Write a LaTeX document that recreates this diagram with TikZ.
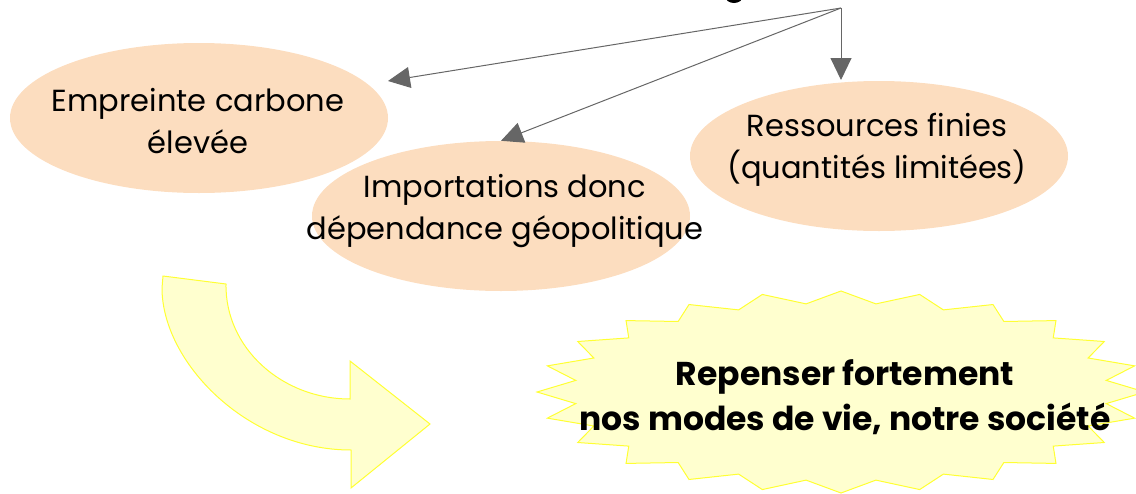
\documentclass[tikz,border=0pt]{standalone}
\usepackage{fontspec}
\setmainfont{Poppins}
\usetikzlibrary{arrows.meta,shapes.geometric}
\definecolor{peach}{HTML}{FCDDBF}
\definecolor{lightyel}{HTML}{FFFFCF}
\definecolor{yelline}{HTML}{FFFF33}
\definecolor{arrgray}{HTML}{666666}
\tikzset{
  blob/.style={ellipse, fill=peach, minimum width=378pt, minimum height=150pt, inner sep=0pt},
  txtlbl/.style={align=center, font=\fontsize{30.5}{42}\selectfont, inner sep=0pt},
  btxtlbl/.style={align=center, font=\fontsize{33}{45}\selectfont\bfseries, inner sep=0pt},
  conn/.style={draw=arrgray, line width=1pt, -{Triangle[length=22pt,width=21pt]}, arrgray},
}
\begin{document}
\begin{tikzpicture}[x=1pt,y=-1pt]
\useasboundingbox (0,0) rectangle (1136,493);
\begin{scope}
\clip (0,0) rectangle (1136,493);
% fragment of a title letter cut by the top edge
\fill[black] (734,-4) ellipse [x radius=9, y radius=7];
% ellipses
\node[blob] (e1) at (199,118) {};
\node[blob] (e2) at (501,216) {};
\node[blob] (e3) at (879,156) {};
\node[txtlbl] (t1) at (198,121) {Empreinte carbone\\élevée};
\node[txtlbl] (t2) at (505,211) {Importations donc\\dépendance géopolitique};
\node[txtlbl] (t3) at (877,150) {Ressources finies\\(quantités limitées)};
% connectors
\coordinate (src) at (841,8);
\coordinate (tip1) at (388,81);
\coordinate (tip3) at (841,80);
\draw[conn] (src) -- (tip1);
\draw[conn] (src) -- (e2.north);
\draw[conn] (src) -- (tip3);
% curved arrow
\draw[draw=yelline, fill=lightyel, line width=1pt, line join=miter]
  (163,276) -- (226,284)
  .. controls (225,348) and (282,399) .. (350,399)
  -- (350,361) -- (430,424) -- (351,488) -- (351,450)
  .. controls (247,450) and (162,362) .. (162,288) -- cycle;
% starburst
\def\cx{841}\def\cy{392}\def\rx{304}\def\ry{101}\def\kk{0.88}
\draw[draw=yelline, fill=lightyel, line width=1pt]
  plot[samples at={0,1,...,47}] ({\cx+(mod(\x,2)==0?1:\kk)*\rx*cos(\x*7.5)}, {\cy-(mod(\x,2)==0?1:\kk)*\ry*sin(\x*7.5)}) -- cycle;
\node[btxtlbl] (t4) at (845,397) {Repenser fortement\\nos modes de vie, notre société};
\end{scope}
\end{tikzpicture}
\end{document}
